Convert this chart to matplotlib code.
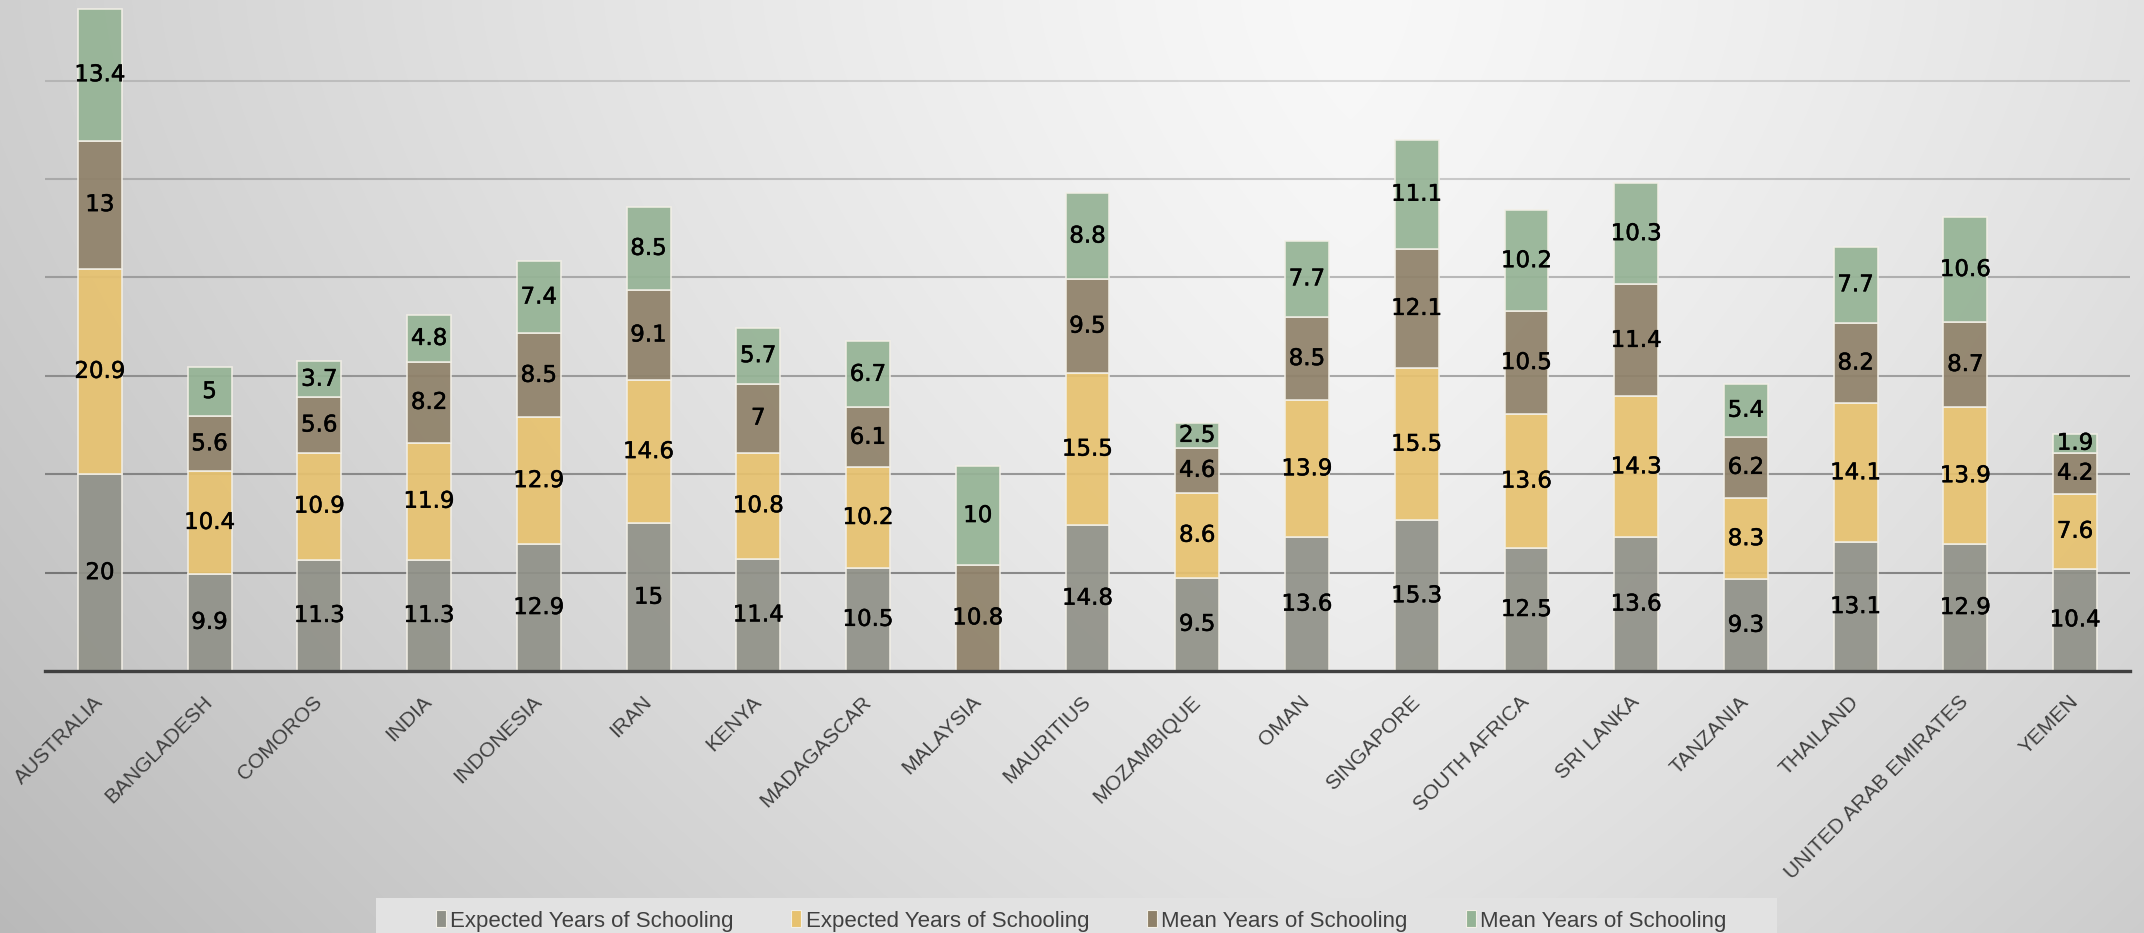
import numpy as np
import matplotlib
matplotlib.use("Agg")
import matplotlib.pyplot as plt
import matplotlib.patheffects as pe
from matplotlib.patches import Patch, Rectangle

countries = ["AUSTRALIA", "BANGLADESH", "COMOROS", "INDIA", "INDONESIA", "IRAN", "KENYA",
             "MADAGASCAR", "MALAYSIA", "MAURITIUS", "MOZAMBIQUE", "OMAN", "SINGAPORE",
             "SOUTH AFRICA", "SRI LANKA", "TANZANIA", "THAILAND", "UNITED ARAB EMIRATES", "YEMEN"]

expected_1 = [20, 9.9, 11.3, 11.3, 12.9, 15, 11.4, 10.5, None, 14.8, 9.5, 13.6, 15.3, 12.5, 13.6, 9.3, 13.1, 12.9, 10.4]
expected_2 = [20.9, 10.4, 10.9, 11.9, 12.9, 14.6, 10.8, 10.2, None, 15.5, 8.6, 13.9, 15.5, 13.6, 14.3, 8.3, 14.1, 13.9, 7.6]
mean_1 = [13, 5.6, 5.6, 8.2, 8.5, 9.1, 7, 6.1, 10.8, 9.5, 4.6, 8.5, 12.1, 10.5, 11.4, 6.2, 8.2, 8.7, 4.2]
mean_2 = [13.4, 5, 3.7, 4.8, 7.4, 8.5, 5.7, 6.7, 10, 8.8, 2.5, 7.7, 11.1, 10.2, 10.3, 5.4, 7.7, 10.6, 1.9]

series_names = ["Expected Years of Schooling", "Expected Years of Schooling",
                "Mean Years of Schooling", "Mean Years of Schooling"]
series = [expected_1, expected_2, mean_1, mean_2]
colors = ["#909188", "#e7c26f", "#8f8169", "#95b395"]

W, H = 2144, 933
fig = plt.figure(figsize=(W / 100, H / 100), dpi=100)

# background gradient
bg = fig.add_axes([0, 0, 1, 1], zorder=0)
yy, xx = np.mgrid[0:H, 0:W]
v = 248 - 40 * (np.abs(xx - 1350) / 1330) ** 1.2 - 22 * (yy / H) ** 1.5
v = np.clip(v, 0, 255) / 255.0
bg.imshow(np.dstack([v, v, v]), aspect="auto", extent=[0, 1, 0, 1], origin="upper")
bg.set_xlim(0, 1)
bg.set_ylim(0, 1)
bg.axis("off")

# legend backdrop
fig.patches.append(Rectangle((376 / W, 0), (1777 - 376) / W, 1 - 898 / H,
                             transform=fig.transFigure, facecolor="#e2e2e2",
                             edgecolor="none", zorder=1))

ax = fig.add_axes([45 / W, 1 - 671 / H, 2085 / W, 671 / H], zorder=2)
ax.set_facecolor("none")

x = np.arange(len(countries))
bottom = np.zeros(len(countries))
grid_levels = [10, 20, 30, 40, 50, 60]
grid_alpha = [0.40, 0.35, 0.30, 0.24, 0.18, 0.13]
for lv, a in zip(grid_levels, grid_alpha):
    ax.axhline(lv, color="black", alpha=a, linewidth=1.5, zorder=0.5)

for vals, col, name in zip(series, colors, series_names):
    arr = np.array([np.nan if v_ is None else v_ for v_ in vals], dtype=float)
    h = np.nan_to_num(arr)
    bars = ax.bar(x, h, width=0.4, bottom=bottom, color=col, alpha=0.92,
                  edgecolor="#f2efe6", linewidth=1.2, label=name, zorder=2)
    labels = ["" if (np.isnan(a_) or a_ == 0) else f"{a_:g}" for a_ in arr]
    texts = ax.bar_label(bars, labels=labels, label_type="center", fontsize=16.5,
                         color="black", family="DejaVu Sans")
    for t in texts:
        t.set_path_effects([pe.withStroke(linewidth=0.35, foreground="black")])
    bottom += h

ax.set_xlim(-0.5, len(countries) - 0.5)
ax.set_ylim(0, 671 / 9.84)
ax.set_yticks([])
for s in ["top", "right", "left"]:
    ax.spines[s].set_visible(False)
ax.spines["bottom"].set_color("#404040")
ax.spines["bottom"].set_linewidth(2.4)
ax.spines["bottom"].set_zorder(5)

ax.set_xticks(x)
ax.set_xticklabels(countries, rotation=45, ha="right", va="center",
                   rotation_mode="anchor", fontsize=15, color="#404040",
                   family="Liberation Sans")
ax.tick_params(axis="x", length=0, pad=20)

handles = [Patch(facecolor=c, edgecolor="#f2efe6", linewidth=0.8) for c in colors]
leg = fig.legend(handles, series_names, ncol=4, loc="center",
                 bbox_to_anchor=(1081 / W, 1 - 921 / H), frameon=False,
                 handlelength=0.45, handleheight=0.8, handletextpad=0.2,
                 columnspacing=2.6,
                 prop={"family": "Liberation Sans", "size": 16})
for t in leg.get_texts():
    t.set_color("#404040")
leg.set_zorder(3)

fig.savefig("out.png", dpi=100)
